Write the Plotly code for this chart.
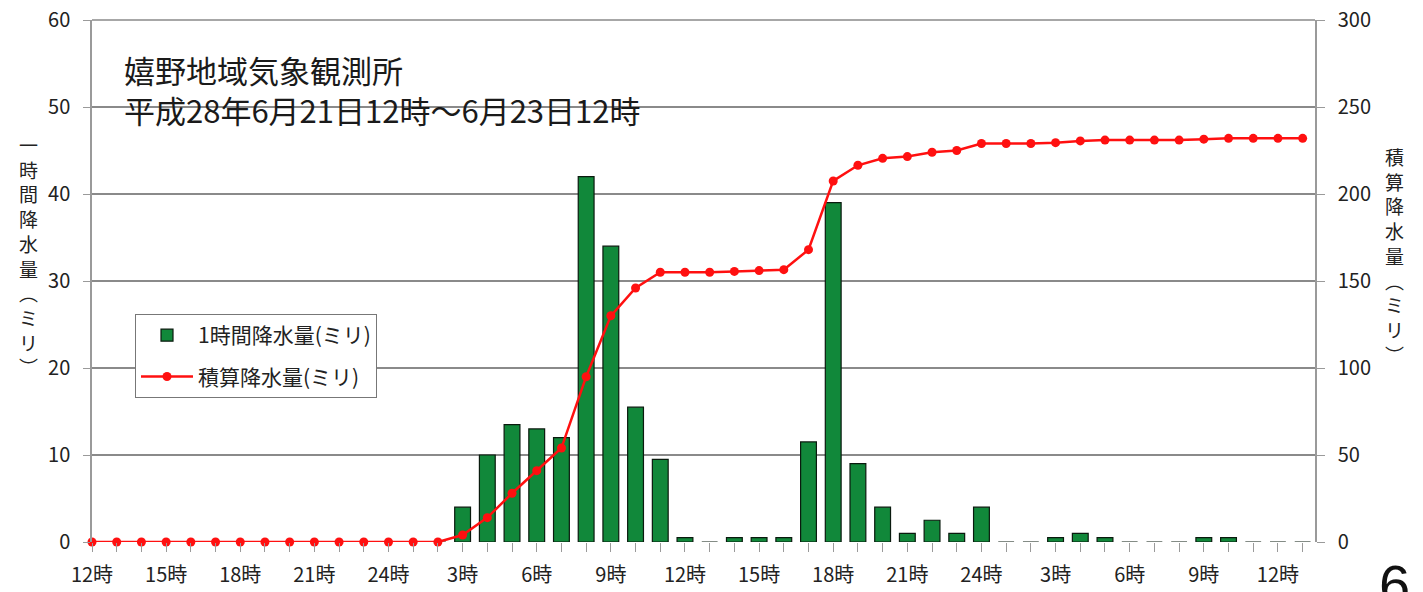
import plotly.graph_objects as go

# ---- data ----
hour_labels = ["12時", "15時", "18時", "21時", "24時", "3時", "6時", "9時",
               "12時", "15時", "18時", "21時", "24時", "3時", "6時", "9時", "12時"]

# hourly rainfall (mm), hourly from 12時 on the 21st (50 hourly slots)
hourly_rain = [0, 0, 0, 0, 0, 0, 0, 0, 0, 0, 0, 0, 0, 0, 0,
               4, 10, 13.5, 13, 12, 42, 34, 15.5, 9.5, 0.5,
               0, 0.5, 0.5, 0.5, 11.5, 39, 9, 4, 1, 2.5, 1, 4,
               0, 0, 0.5, 1, 0.5, 0, 0, 0, 0.5, 0.5, 0, 0, 0]

# cumulative rainfall (mm)
cumulative_rain = [0, 0, 0, 0, 0, 0, 0, 0, 0, 0, 0, 0, 0, 0, 0,
                   4, 14, 28, 41, 54, 95, 130, 146, 155, 155,
                   155, 155.5, 156, 156.5, 168, 207.5, 216.5, 220.5, 221.5, 224, 225, 229,
                   229, 229, 229.5, 230.5, 231, 231, 231, 231, 231.5, 232, 232, 232, 232]

hours = list(range(len(hourly_rain)))
tick_text = []
for i in hours:
    tick_text.append(hour_labels[i // 3] if (i % 3 == 0 and i // 3 < len(hour_labels)) else "")

FONT = "Noto Sans CJK JP"
GRID = "#8a8a8a"
AXC = "#9a9a9a"

# page offset compensation (body margin)
OX, OY = 8, 8
W, H = 1423, 592
L, R, T, B = 92 - OX, W - 1315 + OX, 20 - OY, H - 542 + OY
PW, PH = W - L - R, H - T - B


def px(xs):
    return (xs - OX - L) / PW


def py(ys):
    return (H - B - (ys - OY)) / PH


fig = go.Figure()
fig.add_trace(go.Bar(
    x=hours, y=hourly_rain, name="1時間降水量(ミリ)", legendgroup="a",
    marker=dict(color="#11883a", line=dict(color="#0a1a0e", width=1.2)),
    width=0.64, yaxis="y",
))
fig.add_trace(go.Scatter(
    x=hours, y=cumulative_rain, name="積算降水量(ミリ)", mode="lines+markers",
    legendgroup="b",
    line=dict(color="#ff1010", width=2.5),
    marker=dict(color="#ff1010", size=9, symbol="circle"),
    yaxis="y2", cliponaxis=False,
))

fig.update_layout(
    width=W, height=H,
    margin=dict(l=L, r=R, t=T, b=B, autoexpand=False),
    paper_bgcolor="white", plot_bgcolor="white",
    font=dict(family=FONT, size=16, color="#222"),
    showlegend=True,
    legend=dict(
        x=px(135), y=py(314), xanchor="left", yanchor="top",
        bgcolor="white", bordercolor="#777", borderwidth=1,
        font=dict(family=FONT, size=21, color="#222"),
        itemwidth=52, tracegroupgap=11,
    ),
    xaxis=dict(
        range=[0, 49.5], tickmode="array", tickvals=hours, ticktext=tick_text,
        ticks="outside", ticklen=9, tickcolor=AXC, tickwidth=1,
        showline=False, showgrid=False, zeroline=False, automargin=False,
        ticklabelstandoff=6, ticklabeloverflow="allow",
        tickfont=dict(family=FONT, size=20, color="#222"),
    ),
    yaxis=dict(
        range=[0, 60], dtick=10, tick0=0,
        showgrid=True, gridcolor=GRID, gridwidth=1.6,
        showline=True, linecolor=AXC, linewidth=1.5,
        ticks="outside", ticklen=7, tickcolor=AXC,
        zeroline=False, automargin=False,
        ticklabelstandoff=9, ticklabeloverflow="allow",
        tickfont=dict(family=FONT, size=20, color="#222"),
    ),
    yaxis2=dict(
        range=[0, 300], dtick=50, tick0=0, overlaying="y", side="right",
        showgrid=False, showline=True, linecolor=AXC, linewidth=1.5,
        ticks="outside", ticklen=8, tickcolor=AXC, zeroline=False,
        automargin=False, ticklabelstandoff=9, ticklabeloverflow="allow",
        tickfont=dict(family=FONT, size=20, color="#222"),
    ),
)

annotations = [
    dict(text="嬉野地域気象観測所<br>平成28年6月21日12時～6月23日12時",
         xref="paper", yref="paper", x=px(119), y=py(42),
         xanchor="left", yanchor="top", align="left", showarrow=False,
         borderpad=4,
         font=dict(family=FONT, size=31, color="#1a1a1a")),
    dict(text="<br>".join(list("一時間降水量") + ["︵", "ミ", "リ", "︶"]),
         xref="paper", yref="paper", x=px(28), y=py(255),
         xanchor="center", yanchor="middle", showarrow=False,
         font=dict(family=FONT, size=19, color="#222")),
    dict(text="<br>".join(list("積算降水量") + ["︵", "ミ", "リ", "︶"]),
         xref="paper", yref="paper", x=px(1394), y=py(255),
         xanchor="center", yanchor="middle", showarrow=False,
         font=dict(family=FONT, size=19, color="#222")),
    dict(text="6", xref="paper", yref="paper", x=px(1394), y=py(551),
         xanchor="center", yanchor="top", showarrow=False,
         font=dict(family="Liberation Sans", size=56, color="#111")),
]
fig.update_layout(annotations=annotations)

fig.update_layout(shapes=[
    # white box behind the station title (hides the 50 gridline)
    dict(type="rect", xref="paper", yref="paper", layer="between",
         x0=px(100), x1=px(655), y0=py(132), y1=py(40),
         fillcolor="white", line=dict(width=0)),
    # top border of plot area
    dict(type="line", xref="paper", yref="paper", layer="between",
         x0=0, x1=1, y0=1, y1=1, line=dict(color=GRID, width=1.6)),
    dict(type="line", xref="paper", yref="paper",
         x0=px(2), x1=px(2), y0=py(600), y1=py(-10),
         line=dict(color="#999", width=3)),
    dict(type="line", xref="paper", yref="paper",
         x0=px(1420), x1=px(1420), y0=py(600), y1=py(-10),
         line=dict(color="#aaa", width=2)),
])

fig.write_html("out.html")
